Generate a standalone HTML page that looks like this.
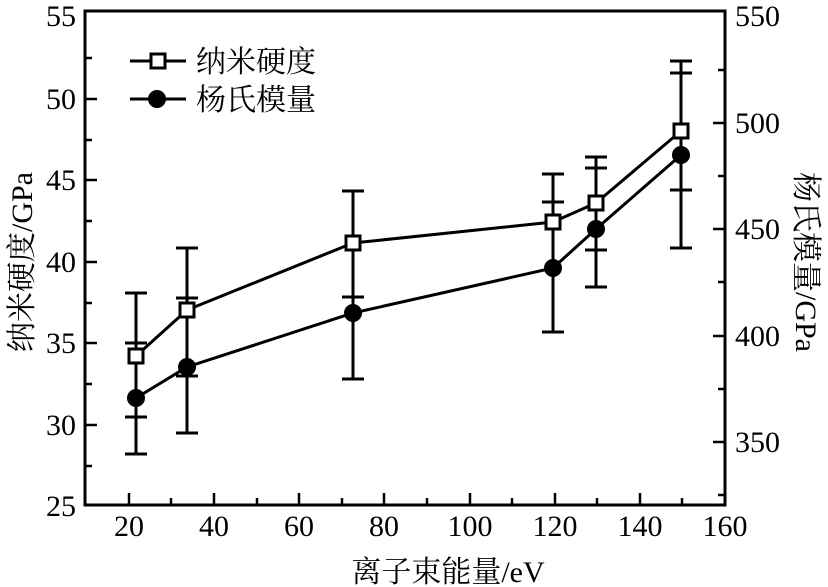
<!DOCTYPE html>
<html><head><meta charset="utf-8"><style>
body{margin:0;background:#fff}
svg{display:block}
text{font-family:"Liberation Serif","Noto Serif CJK SC",serif;fill:#000}
</style></head><body>
<svg width="828" height="587" viewBox="0 0 828 587" xmlns="http://www.w3.org/2000/svg">
<rect x="85" y="11" width="640" height="494" fill="none" stroke="#000" stroke-width="3"/>
<g stroke="#000" stroke-width="2.5">
<line x1="85" y1="425" x2="97" y2="425"/><line x1="85" y1="343" x2="97" y2="343"/><line x1="85" y1="262" x2="97" y2="262"/><line x1="85" y1="180" x2="97" y2="180"/><line x1="85" y1="99" x2="97" y2="99"/>
<line x1="85" y1="466" x2="92" y2="466"/><line x1="85" y1="384" x2="92" y2="384"/><line x1="85" y1="303" x2="92" y2="303"/><line x1="85" y1="221" x2="92" y2="221"/><line x1="85" y1="140" x2="92" y2="140"/><line x1="85" y1="58" x2="92" y2="58"/>
<line x1="725" y1="442" x2="713" y2="442"/><line x1="725" y1="336" x2="713" y2="336"/><line x1="725" y1="229" x2="713" y2="229"/><line x1="725" y1="123" x2="713" y2="123"/>
<line x1="725" y1="495" x2="718" y2="495"/><line x1="725" y1="389" x2="718" y2="389"/><line x1="725" y1="282" x2="718" y2="282"/><line x1="725" y1="176" x2="718" y2="176"/><line x1="725" y1="70" x2="718" y2="70"/>
<line x1="129" y1="505" x2="129" y2="493"/><line x1="214" y1="505" x2="214" y2="493"/><line x1="299" y1="505" x2="299" y2="493"/><line x1="384" y1="505" x2="384" y2="493"/><line x1="470" y1="505" x2="470" y2="493"/><line x1="555" y1="505" x2="555" y2="493"/><line x1="640" y1="505" x2="640" y2="493"/>
<line x1="171" y1="505" x2="171" y2="498"/><line x1="257" y1="505" x2="257" y2="498"/><line x1="342" y1="505" x2="342" y2="498"/><line x1="427" y1="505" x2="427" y2="498"/><line x1="512" y1="505" x2="512" y2="498"/><line x1="597" y1="505" x2="597" y2="498"/><line x1="682" y1="505" x2="682" y2="498"/>
</g>
<g font-size="30" text-anchor="end">
<text x="76" y="516">25</text><text x="76" y="435">30</text><text x="76" y="353">35</text><text x="76" y="272">40</text><text x="76" y="190">45</text><text x="76" y="109">50</text><text x="76" y="26">55</text>
</g>
<g font-size="30" text-anchor="start">
<text x="735" y="452">350</text><text x="735" y="346">400</text><text x="735" y="239">450</text><text x="735" y="133">500</text><text x="735" y="26">550</text>
</g>
<g font-size="30" text-anchor="middle">
<text x="129" y="536">20</text><text x="214" y="536">40</text><text x="299" y="536">60</text><text x="384" y="536">80</text><text x="470" y="536">100</text><text x="555" y="536">120</text><text x="640" y="536">140</text><text x="725" y="536">160</text>
</g>
<text x="448" y="582" font-size="30" text-anchor="middle">离子束能量/eV</text>
<text transform="translate(32,262) rotate(-90)" font-size="30" text-anchor="middle">纳米硬度/GPa</text>
<text transform="translate(796,262) rotate(90)" font-size="30" text-anchor="middle">杨氏模量/GPa</text>
<g stroke="#000" stroke-width="3" fill="none">
<path d="M136 293V454M187 248V433M353 191V379M553 174V332M596 157V287M681 61V248"/>
<path d="M125 293h22M125 343h22M125 417h22M125 454h22
M176 248h22M176 298h22M176 376h22M176 433h22
M342 191h22M342 297h22M342 379h22
M542 174h22M542 202h22M542 332h22
M585 157h22M585 168h22M585 250h22M585 287h22
M670 61h22M670 73h22M670 190h22M670 248h22"/>
<polyline points="136,356 187,310 353,243 553,222 596,203 681,131"/>
<polyline points="136,398 187,367 353,313 553,268 596,229 681,155"/>
<line x1="130" y1="61" x2="186" y2="61"/><line x1="130" y1="99" x2="186" y2="99"/>
</g>
<g fill="#000">
<circle cx="136" cy="398" r="9"/><circle cx="187" cy="367" r="9"/><circle cx="353" cy="313" r="9"/><circle cx="553" cy="268" r="9"/><circle cx="596" cy="229" r="9"/><circle cx="681" cy="155" r="9"/>
<circle cx="157" cy="99" r="9"/>
</g>
<g fill="#fff" stroke="#000" stroke-width="3">
<rect x="129" y="349" width="14" height="14"/><rect x="180" y="303" width="14" height="14"/><rect x="346" y="236" width="14" height="14"/><rect x="546" y="215" width="14" height="14"/><rect x="589" y="196" width="14" height="14"/><rect x="674" y="124" width="14" height="14"/>
<rect x="151" y="54" width="14" height="14"/>
</g>
<text x="196" y="72" font-size="30">纳米硬度</text>
<text x="196" y="110" font-size="30">杨氏模量</text>
</svg>
</body></html>
